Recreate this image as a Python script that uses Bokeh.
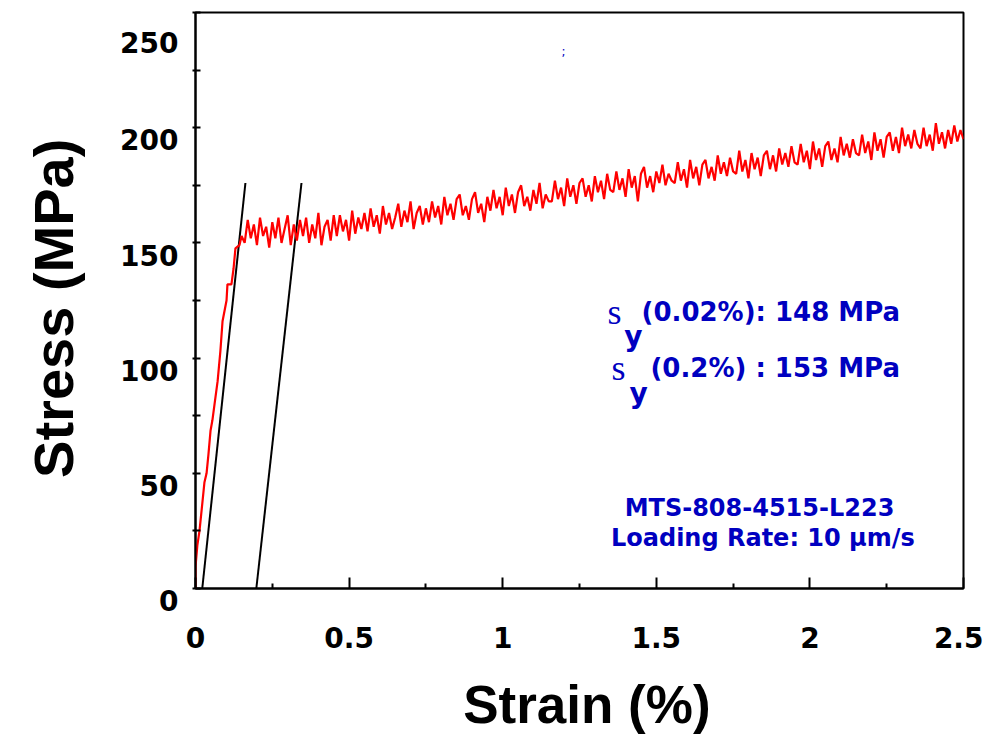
import numpy as np
from bokeh.plotting import figure
from bokeh.models import Label, FixedTicker, Range1d
from bokeh.embed import file_html
from bokeh.resources import INLINE

# ---------------- data ----------------
x_ticks = [0, 0.5, 1, 1.5, 2, 2.5]
x_tick_labels = ["0", "0.5", "1", "1.5", "2", "2.5"]
x_minor = [0.25, 0.75, 1.25, 1.75, 2.25]
y_ticks = [0, 50, 100, 150, 200, 250]
y_tick_labels = ["0", "50", "100", "150", "200", "250"]
y_minor = [25, 75, 125, 175, 225]

# elastic loading part of the stress-strain curve
load_strain = [0.0, 0.0, 0.006, 0.013, 0.023, 0.029, 0.036, 0.042, 0.049, 0.055,
               0.062, 0.072, 0.081, 0.088, 0.101, 0.104, 0.117, 0.124, 0.130,
               0.143, 0.150]
load_stress = [0, 9.5, 18.7, 25, 38, 46, 50, 58, 68.6, 73,
               80, 90, 103, 116, 125, 132, 132, 139, 147.6,
               149, 153]

# plastic part, sampled every 0.01 % strain from 0.16 to 2.50
plateau_stress = [
    150, 160, 152, 158, 149, 161, 153, 157, 148, 159,
    152, 161, 150, 156, 162, 149, 158, 151, 160, 153,
    161, 150, 158, 152, 163, 149, 157, 160, 151, 162,
    153, 162, 155, 160, 151, 164, 154, 161, 156, 163,
    155, 165, 157, 162, 154, 166, 158, 163, 156, 161,
    167, 157, 164, 159, 168, 156, 163, 166, 158, 165,
    159, 168, 161, 166, 158, 170, 162, 167, 160, 169,
    171, 162, 166, 160, 169, 172, 163, 167, 159, 170,
    164, 173, 165, 170, 162, 174, 166, 171, 163, 172,
    175, 166, 170, 164, 173, 167, 176, 165, 171, 168,
    168, 177, 169, 174, 166, 178, 170, 175, 167, 176,
    178, 170, 175, 168, 179, 172, 177, 169, 180, 173,
    172, 181, 173, 178, 170, 182, 174, 179, 168, 180,
    183, 174, 179, 172, 181, 176, 184, 175, 180, 177,
    176, 185, 177, 182, 174, 186, 178, 183, 175, 184,
    186, 178, 183, 177, 188, 180, 185, 179, 187, 181,
    180, 190, 181, 186, 178, 189, 182, 187, 179, 188,
    190, 182, 188, 181, 191, 184, 189, 183, 192, 185,
    184, 193, 185, 190, 182, 194, 186, 191, 183, 192,
    194, 186, 191, 185, 196, 188, 193, 187, 195, 189,
    188, 197, 189, 194, 186, 198, 190, 195, 187, 196,
    198, 190, 196, 189, 200, 192, 197, 191, 199, 193,
    191, 200, 192, 197, 190, 202, 193, 198, 191, 199,
    193, 201, 194, 199, 195,
]
plateau_strain = list(np.round(np.linspace(0.16, 2.50, len(plateau_stress)), 3))

curve_strain = load_strain + plateau_strain
curve_stress = load_stress + plateau_stress

# 0.02 % and 0.2 % offset lines
offset1_strain = [0.022, 0.1625]
offset1_stress = [0, 176]
offset2_strain = [0.198, 0.345]
offset2_stress = [0, 176]

# ---------------- figure ----------------
p = figure(width=983, height=739,
           x_range=Range1d(0, 2.5), y_range=Range1d(0, 250),
           output_backend="svg", toolbar_location=None,
           min_border_left=195, min_border_top=12,
           min_border_right=20, min_border_bottom=151)

p.background_fill_color = "white"
p.border_fill_color = "white"
p.outline_line_color = "black"
p.outline_line_width = 2
p.xgrid.visible = False
p.ygrid.visible = False

FONT = "DejaVu Sans"
LFONT = "Liberation Sans"

p.xaxis.ticker = FixedTicker(ticks=x_ticks, minor_ticks=x_minor)
p.xaxis.major_label_overrides = dict(zip(x_ticks, x_tick_labels))
p.yaxis.ticker = FixedTicker(ticks=y_ticks, minor_ticks=y_minor)
# an empty first line puts each value just below its tick, as in the original
p.yaxis.major_label_overrides = {v: "\n" + t for v, t in zip(y_ticks, y_tick_labels)}
p.yaxis.major_label_text_line_height = 0.8

for ax in (p.xaxis[0], p.yaxis[0]):
    ax.axis_line_width = 2
    ax.axis_line_color = "black"
    ax.major_tick_line_width = 2
    ax.minor_tick_line_width = 2
    ax.major_label_text_font = FONT
    ax.major_label_text_font_style = "bold"
    ax.major_label_text_font_size = "28px"
    ax.major_label_text_color = "black"
    ax.axis_label_text_font = LFONT
    ax.axis_label_text_font_style = "bold"
    ax.axis_label_text_color = "black"

p.xaxis.major_tick_in = 11
p.xaxis.major_tick_out = 0
p.xaxis.minor_tick_in = 5
p.xaxis.minor_tick_out = 0
p.xaxis.major_label_standoff = 38
p.xaxis.axis_label = "\u00a0Strain (%)"
p.xaxis.axis_label_text_font_size = "53px"
p.xaxis.axis_label_standoff = 24

p.yaxis.major_tick_in = 5
p.yaxis.major_tick_out = 3
p.yaxis.minor_tick_in = 5
p.yaxis.minor_tick_out = 3
p.yaxis.major_label_standoff = 14
p.yaxis.axis_label = "Stress (MPa)\u00a0"
p.yaxis.axis_label_text_font_size = "56px"
p.yaxis.axis_label_standoff = 32

# curves
p.line(offset1_strain, offset1_stress, line_color="black", line_width=2)
p.line(offset2_strain, offset2_stress, line_color="black", line_width=2)
p.line(curve_strain, curve_stress, line_color="#FF0000", line_width=2.2)

# annotations
BLUE = "#0000C0"
def lab(x, y, text, size, font=FONT, style="bold", align="left"):
    p.add_layout(Label(x=x, y=y, text=text, text_font=font, text_font_style=style,
                       text_font_size=size, text_color=BLUE, text_align=align,
                       text_baseline="alphabetic"))

lab(1.341, 120.0, "s", "36px", font="Liberation Serif", style="normal")
lab(1.396, 109.5, "y", "28px")
lab(1.452, 120.0, "(0.02%): 148 MPa", "26px")
lab(1.354, 95.7, "s", "36px", font="Liberation Serif", style="normal")
lab(1.413, 84.7, "y", "28px")
lab(1.481, 95.7, "(0.2%) : 153 MPa", "26px")
lab(1.836, 34.8, "MTS-808-4515-L223", "24px", align="center")
lab(1.847, 21.8, "Loading Rate: 10 \u00b5m/s", "24px", align="center")
lab(1.191, 233.0, ";", "12px", style="normal")

open("out.html", "w").write(file_html(p, INLINE))
